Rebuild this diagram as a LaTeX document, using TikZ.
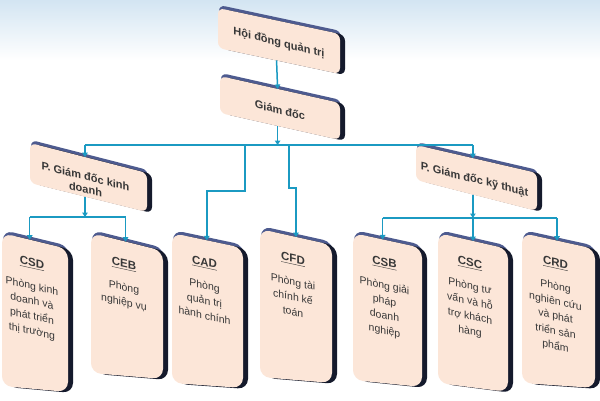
\documentclass[tikz,border=0pt]{standalone}
\usepackage{fontspec}
\setmainfont{Liberation Sans}
\usetikzlibrary{calc,arrows.meta}
\definecolor{conn}{HTML}{1B9AC2}
\definecolor{boxfill}{HTML}{FCE6D8}
\definecolor{edgedark}{HTML}{151A2C}
\definecolor{edgeblue}{HTML}{4E5B8F}
\definecolor{sky}{HTML}{D3E5F2}
\definecolor{txt}{HTML}{383838}
\newcommand\boxshape[9]{%
  \coordinate (#1-tl) at (#2,#4);
  \coordinate (#1-tr) at (#3,#5);
  \coordinate (#1-bl) at (#2,#6);
  \coordinate (#1-br) at (#3,#7);
  \fill[edgeblue, rounded corners=#9] (#2+1,#4-3) -- (#3+1,#5-3) -- (#3+1,#7-3) -- (#2+1,#6-3) -- cycle;
  \fill[edgedark, rounded corners=#9] (#2+5,#4+1) -- (#3+5,#5+1) -- (#3+5,#7+1) -- (#2+5,#6+1) -- cycle;
  \fill[boxfill, rounded corners=#9] (#1-tl) -- (#1-tr) -- (#1-br) -- (#1-bl) -- cycle;
  \coordinate (#1-in) at ($(#1-tl)!#8!(#1-tr)$);
  \coordinate (#1-out) at ($(#1-bl)!#8!(#1-br)$);
}
\newcommand\hd[1]{{\fontsize{11.5}{13}\selectfont\bfseries\underline{#1}}}
\begin{document}
\begin{tikzpicture}[x=1pt,y=-1pt,
  conn line/.style={draw=conn, line width=1.5pt},
  arr/.style={conn line, -{Triangle[length=4.5pt,width=5.5pt]}},
  toptext/.style={font=\bfseries\fontsize{11}{13}\selectfont, text=txt, align=center, yslant=-0.25},
  lowtext/.style={font=\fontsize{10.5}{15}\selectfont, text=txt, align=center, yslant=-0.22, anchor=north}]
\useasboundingbox (0,0) rectangle (600,400);
\fill[white] (0,0) rectangle (600,400);
\shade[top color=sky, bottom color=white] (0,0) rectangle (600,60);
% boxes
\boxshape{hdqt}{218}{340}{8}{34}{48}{74}{0.48}{6pt}
\node[toptext] (hdqt) at ($(hdqt-tl)!0.5!(hdqt-br) + (0,2)$) {Hội đồng quản trị};
\boxshape{gd}{220}{340}{76}{103}{113}{140}{0.48}{6pt}
\node[toptext] (gd) at ($(gd-tl)!0.5!(gd-br) + (0,2)$) {Giám đốc};
\boxshape{pkd}{30}{147}{143}{173}{183}{212}{0.47}{6pt}
\node[toptext] (pkd) at ($(pkd-tl)!0.5!(pkd-br) + (-3,5)$) {P. Giám đốc kinh\\doanh};
\boxshape{pkt}{416}{537}{145}{173}{180}{211}{0.47}{6pt}
\node[toptext] (pkt) at ($(pkt-tl)!0.5!(pkt-br) + (-2,2)$) {P. Giám đốc kỹ thuật};
\boxshape{csd}{2}{68}{233}{249}{386}{392}{0.42}{10pt}
\node[lowtext] (csd) at ($(csd-tl)!0.5!(csd-tr) + (-3,14)$) {\hd{CSD}\\[8pt]Phòng kinh\\doanh và\\phát triển\\thị trường};
\boxshape{ceb}{91}{163}{233}{251}{373}{379}{0.48}{10pt}
\node[lowtext] (ceb) at ($(ceb-tl)!0.5!(ceb-tr) + (-3,14)$) {\hd{CEB}\\[8pt]Phòng\\nghiệp vụ};
\boxshape{cad}{172}{243}{233}{248}{383}{388}{0.49}{10pt}
\node[lowtext] (cad) at ($(cad-tl)!0.5!(cad-tr) + (-3,14)$) {\hd{CAD}\\[8pt]Phòng\\quản trị\\hành chính};
\boxshape{cfd}{260}{332}{229}{245}{377}{383}{0.5}{10pt}
\node[lowtext] (cfd) at ($(cfd-tl)!0.5!(cfd-tr) + (-3,14)$) {\hd{CFD}\\[8pt]Phòng tài\\chính kế\\toán};
\boxshape{csb}{353}{422}{233}{248}{380}{387}{0.43}{10pt}
\node[lowtext] (csb) at ($(csb-tl)!0.5!(csb-tr) + (-3,14)$) {\hd{CSB}\\[8pt]Phòng giải\\pháp\\doanh\\nghiệp};
\boxshape{csc}{438}{508}{233}{249}{383}{392}{0.5}{10pt}
\node[lowtext] (csc) at ($(csc-tl)!0.5!(csc-tr) + (-3,14)$) {\hd{CSC}\\[8pt]Phòng tư\\vấn và hỗ\\trợ khách\\hàng};
\boxshape{crd}{522}{595}{233}{249}{383}{388}{0.48}{10pt}
\node[lowtext] (crd) at ($(crd-tl)!0.5!(crd-tr) + (-3,14)$) {\hd{CRD}\\[8pt]Phòng\\nghiên cứu\\và phát\\triển sản\\phẩm};
% connectors
\draw[arr] (hdqt-out) -- (gd-in);
\coordinate (busy) at (0,145);
\draw[arr] (gd-out) -- (gd-out |- busy);
\draw[conn line] (pkd-in |- busy) -- (pkt-in |- busy);
\draw[arr] (pkd-in |- busy) -- (pkd-in);
\draw[arr] (pkt-in |- busy) -- (pkt-in);
\coordinate (cadj) at (245,145);
\coordinate (cadk) at (245,191);
\draw[arr] (cadj) -- (cadk) -| (cad-in);
\coordinate (cfdj) at (289,145);
\coordinate (cfdk) at (289,188);
\draw[arr] (cfdj) -- (cfdk) -| (cfd-in);
\coordinate (kdy) at (0,217);
\draw[arr] (pkd-out) -- (pkd-out |- kdy);
\draw[conn line] (csd-in |- kdy) -- (ceb-in |- kdy);
\draw[arr] (csd-in |- kdy) -- (csd-in);
\draw[arr] (ceb-in |- kdy) -- (ceb-in);
\coordinate (kty) at (0,218);
\draw[arr] (pkt-out) -- (pkt-out |- kty);
\draw[conn line] (csb-in |- kty) -- (crd-in |- kty);
\draw[arr] (csb-in |- kty) -- (csb-in);
\draw[arr] (csc-in |- kty) -- (csc-in);
\draw[arr] (crd-in |- kty) -- (crd-in);
\end{tikzpicture}
\end{document}
